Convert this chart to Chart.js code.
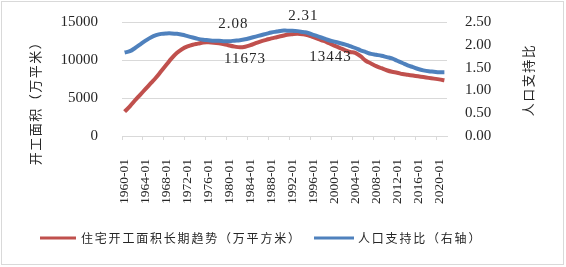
<!DOCTYPE html>
<html>
<head>
<meta charset="utf-8">
<script src="https://cdn.jsdelivr.net/npm/chart.js@4.4.1/dist/chart.umd.min.js"></script>
<style>
  html, body { margin: 0; padding: 0; background: #fff; }
</style>
</head>
<body>
<canvas id="chart" width="566" height="267"></canvas>
<script>
// categories: 1960-01 ... 2021-01
const labels = [];
for (let y = 1960; y <= 2021; y++) labels.push(y + '-01');

// 住宅开工面积长期趋势（万平方米）
const startArea = [
  3200, 3900, 4700, 5450, 6200, 6950, 7700, 8550, 9400, 10250,
  10950, 11450, 11780, 12000, 12150, 12300, 12320, 12280, 12200, 12080,
  11900, 11760, 11673, 11750, 11950, 12220, 12450, 12650, 12850, 13000,
  13150, 13320, 13400, 13443, 13380, 13250, 13000, 12750, 12500, 12200,
  11900, 11600, 11300, 11050, 10950, 10500, 9900, 9550, 9200, 8920,
  8650, 8450, 8330, 8150, 8050, 7950, 7850, 7750, 7650, 7550,
  7450, 7330
];

// 人口支持比（右轴）
const supportRatio = [
  1.83, 1.86, 1.93, 2.01, 2.09, 2.16, 2.21, 2.24, 2.25, 2.25,
  2.24, 2.22, 2.19, 2.16, 2.13, 2.11, 2.10, 2.09, 2.09, 2.08,
  2.08, 2.09, 2.10, 2.12, 2.15, 2.18, 2.21, 2.24, 2.27, 2.29,
  2.31, 2.31, 2.31, 2.30, 2.28, 2.26, 2.22, 2.18, 2.14, 2.10,
  2.07, 2.04, 2.01, 1.97, 1.93, 1.88, 1.84, 1.80, 1.78, 1.76,
  1.73, 1.70, 1.65, 1.60, 1.55, 1.51, 1.47, 1.44, 1.42, 1.41,
  1.40, 1.40
];

const leftTicks = [0, 5000, 10000, 15000];
const rightTicks = [0, 0.5, 1.0, 1.5, 2.0, 2.5];

// annotated points: [dataset, index, text, dx, dy]
const callouts = [
  [1, 20, '2.08', 4, -17],
  [0, 22, '11673', 5, 12],
  [1, 32, '2.31', 11, -15],
  [0, 33, '13443', 33, 23]
];

const RED = '#C0504D';
const BLUE = '#4F81BD';
const TXT = '#262626';
const GRID = '#d9d9d9';
const SERIF = '"Liberation Serif", "DejaVu Serif", serif';
const CJK = '"Noto Sans CJK SC", sans-serif';

const extras = {
  id: 'extras',
  afterDraw(chart) {
    const ctx = chart.ctx;
    ctx.save();
    // outer frame
    ctx.strokeStyle = GRID;
    ctx.lineWidth = 1;
    ctx.strokeRect(1.5, 1.5, 562, 263);

    // data labels
    ctx.fillStyle = TXT;
    ctx.font = '15px ' + SERIF;
    ctx.textAlign = 'center';
    ctx.textBaseline = 'middle';
    ctx.letterSpacing = '1px';
    const x = chart.scales.x;
    callouts.forEach(([ds, i, text, dx, dy]) => {
      const yScale = ds === 0 ? chart.scales.y : chart.scales.y1;
      const v = chart.data.datasets[ds].data[i];
      ctx.fillText(text, x.getPixelForValue(i) + dx, yScale.getPixelForValue(v) + dy);
    });

    // axis titles (rotated, reading bottom to top)
    ctx.font = '13px ' + CJK;
    ctx.letterSpacing = '1.5px';
    [['开工面积（万平米）', 35, 100], ['人口支持比', 528, 80]].forEach(([t, cx, cy]) => {
      ctx.save();
      ctx.translate(cx, cy);
      ctx.rotate(-Math.PI / 2);
      ctx.fillText(t, 0, 0);
      ctx.restore();
    });

    // legend
    ctx.font = '12px ' + CJK;
    ctx.letterSpacing = '1.8px';
    ctx.textAlign = 'left';
    const items = [[40, 76, 81], [314, 354, 358]];
    chart.data.datasets.forEach((d, k) => {
      const [x0, x1, tx] = items[k];
      ctx.strokeStyle = d.borderColor;
      ctx.lineWidth = 3;
      ctx.beginPath();
      ctx.moveTo(x0, 238);
      ctx.lineTo(x1, 238);
      ctx.stroke();
      ctx.fillText(d.label, tx, 238);
    });
    ctx.restore();
  }
};

const chart = new Chart(document.getElementById('chart'), {
  type: 'line',
  data: {
    labels: labels,
    datasets: [
      {
        label: '住宅开工面积长期趋势（万平方米）',
        data: startArea,
        borderColor: RED,
        backgroundColor: RED,
        borderWidth: 4,
        pointRadius: 0,
        tension: 0.4,
        yAxisID: 'y',
        order: 1
      },
      {
        label: '人口支持比（右轴）',
        data: supportRatio,
        borderColor: BLUE,
        backgroundColor: BLUE,
        borderWidth: 4,
        pointRadius: 0,
        tension: 0.4,
        yAxisID: 'y1',
        order: 0
      }
    ]
  },
  options: {
    responsive: false,
    animation: false,
    devicePixelRatio: 1,
    layout: { padding: { top: 22, left: 0, right: 0, bottom: 0 } },
    plugins: {
      legend: { display: false },
      tooltip: { enabled: false }
    },
    scales: {
      x: {
        offset: true,
        grid: {
          offset: true,
          drawOnChartArea: false,
          tickLength: 4,
          color: (c) => (c.index % 4 === 0 ? GRID : 'rgba(0,0,0,0)')
        },
        border: { color: GRID },
        ticks: {
          autoSkip: false,
          minRotation: 90,
          maxRotation: 90,
          padding: 19,
          color: TXT,
          font: { family: SERIF, size: 13.5 },
          callback: (v, i) => (i % 4 === 0 ? labels[i] : '')
        },
        afterFit: (s) => { s.height = 131; }
      },
      y: {
        position: 'left',
        min: 0,
        max: 15000,
        afterBuildTicks: (s) => { s.ticks = leftTicks.map(v => ({ value: v })); },
        grid: { color: GRID, drawTicks: false },
        border: { display: false },
        ticks: {
          autoSkip: false,
          padding: 24,
          color: TXT,
          font: { family: SERIF, size: 15 },
          callback: (v) => String(v)
        },
        afterFit: (s) => { s.width = 122; s.paddingTop = 0; s.paddingBottom = 0; }
      },
      y1: {
        position: 'right',
        min: 0,
        max: 2.5,
        afterBuildTicks: (s) => { s.ticks = rightTicks.map(v => ({ value: v })); },
        grid: { drawOnChartArea: false, drawTicks: false },
        border: { display: false },
        ticks: {
          autoSkip: false,
          padding: 18,
          color: TXT,
          font: { family: SERIF, size: 15 },
          callback: (v) => Number(v).toFixed(2)
        },
        afterFit: (s) => { s.width = 119; s.paddingTop = 0; s.paddingBottom = 0; }
      }
    }
  },
  plugins: [extras]
});
</script>
</body>
</html>
